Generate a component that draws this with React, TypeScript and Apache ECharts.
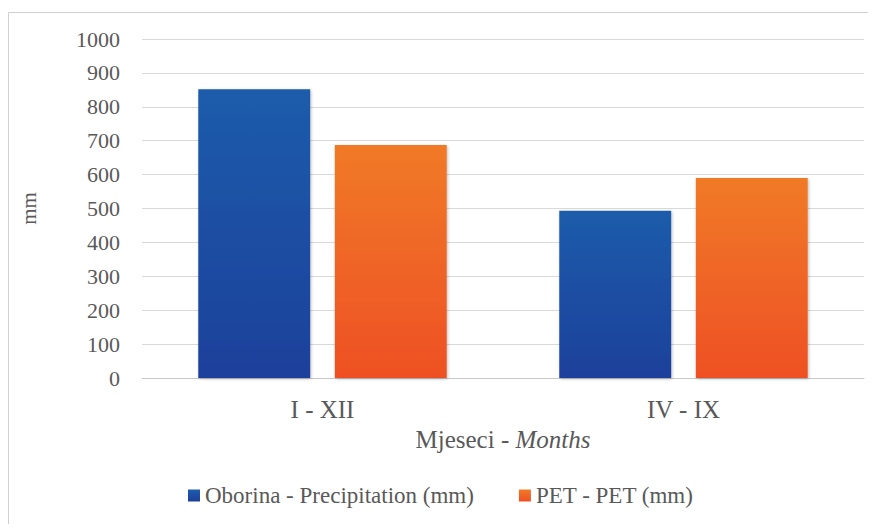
import React, { useEffect, useRef } from "react";
import * as echarts from "echarts";

const categories = ["I - XII", "IV - IX"];
const precipitation = [852, 493];
const pet = [687, 590];
const seriesNames = ["Oborina - Precipitation (mm)", "PET - PET (mm)"];

export default function App() {
  const ref = useRef<HTMLDivElement>(null);
  useEffect(() => {
    const chart = echarts.init(ref.current!, null, { renderer: "svg" });
    const font = "Liberation Serif";
    const grey = "#595959";
    chart.setOption({
      animation: false,
      backgroundColor: "#ffffff",
      textStyle: { fontFamily: font },
      graphic: [
        {
          type: "rect",
          shape: { x: 8.5, y: 12.5, width: 900, height: 600 },
          style: { fill: "none", stroke: "#d0d0d0", lineWidth: 1 },
          silent: true,
        },
      ],
      grid: { left: 142, right: 12, top: 39, bottom: 154 },
      legend: {
        data: seriesNames,
        bottom: 20,
        left: 183,
        icon: "rect",
        itemWidth: 12,
        itemHeight: 12,
        itemGap: 45,
        textStyle: { fontFamily: font, fontSize: 23, color: grey },
      },
      xAxis: {
        type: "category",
        data: categories,
        name: "{a|Mjeseci - }{b|Months}",
        nameLocation: "middle",
        nameGap: 47,
        nameTextStyle: {
          fontFamily: font,
          rich: {
            a: { fontFamily: font, fontSize: 25, color: grey },
            b: { fontFamily: font, fontSize: 25, color: grey, fontStyle: "italic" },
          },
        },
        axisLine: { lineStyle: { color: "#c8c8c8", width: 1 } },
        axisTick: { show: false },
        axisLabel: { fontFamily: font, fontSize: 25, color: grey, margin: 19 },
      },
      yAxis: {
        type: "value",
        min: 0,
        max: 1000,
        interval: 100,
        name: "mm",
        nameLocation: "middle",
        nameGap: 103,
        nameRotate: 90,
        nameTextStyle: { fontFamily: font, fontSize: 21, color: grey },
        axisLine: { show: false },
        axisTick: { show: false },
        axisLabel: {
          fontFamily: font,
          fontSize: 22,
          color: grey,
          margin: 22,
          formatter: (v: number) => String(v),
        },
        splitLine: { lineStyle: { color: "#d9d9d9", width: 1 } },
      },
      series: [
        {
          name: seriesNames[0],
          type: "bar",
          data: precipitation,
          barWidth: "31%",
          barGap: "22%",
          itemStyle: {
            color: new echarts.graphic.LinearGradient(0, 0, 0, 1, [
              { offset: 0, color: "#1c5cab" },
              { offset: 1, color: "#1e409b" },
            ]),
            shadowColor: "rgba(0,0,0,0.25)",
            shadowBlur: 3,
            shadowOffsetX: 1,
            shadowOffsetY: 1,
          },
        },
        {
          name: seriesNames[1],
          type: "bar",
          data: pet,
          barWidth: "31%",
          itemStyle: {
            color: new echarts.graphic.LinearGradient(0, 0, 0, 1, [
              { offset: 0, color: "#f07a27" },
              { offset: 1, color: "#ee5024" },
            ]),
            shadowColor: "rgba(0,0,0,0.25)",
            shadowBlur: 3,
            shadowOffsetX: 1,
            shadowOffsetY: 1,
          },
        },
      ],
    });
    return () => chart.dispose();
  }, []);
  return <div ref={ref} style={{ width: 876, height: 532, margin: -8 }} />;
}
